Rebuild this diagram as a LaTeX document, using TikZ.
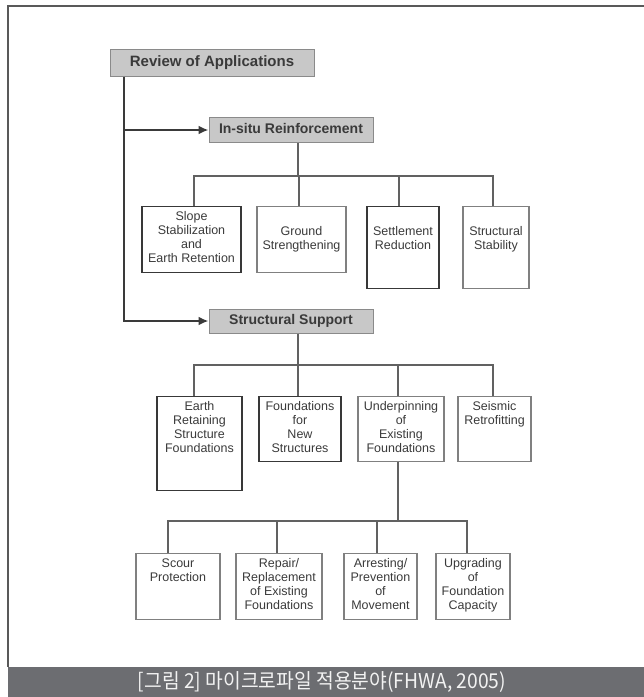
\documentclass[tikz,border=0pt]{standalone}
\usepackage{fontspec}
\setmainfont{Liberation Sans}
\newfontfamily\kofont{Noto Sans CJK KR}
\usetikzlibrary{arrows.meta}

\definecolor{headfill}{HTML}{C8C8C8}
\definecolor{headline}{HTML}{8A8A8A}
\definecolor{band}{HTML}{6C6D71}
\definecolor{inkgray}{HTML}{3A3A3A}

% text of a box: width, height, gap above first line, lines
\newcommand{\boxtext}[4]{\parbox[t][#2][t]{#1}{\centering\vspace*{#3}#4}}

\tikzset{
  head/.style={draw=headline, fill=headfill, line width=1pt, inner sep=0pt,
    font=\bfseries\fontsize{14}{16}\selectfont, text=inkgray,
    text height=10pt, text depth=3pt},
  cbox/.style={draw=black!50, line width=1.2pt, inner sep=0pt, anchor=north,
    font=\fontsize{12.5}{14}\selectfont, text=inkgray},
  darkbox/.style={cbox, draw=black!78},
  link/.style={draw=black!62, line width=1.2pt},
  trunk/.style={draw=inkgray, line width=2pt, -{Latex[length=10pt,width=9pt]}},
}

\begin{document}
\begin{tikzpicture}[x=1pt, y=-1pt]
\useasboundingbox (0,0) rectangle (644,697);
% frame and caption
\draw[black!65, line width=1.2pt] (644,6) -- (8,6) -- (8,667);
\fill[band] (8,667) rectangle (644,697);
\node[text=white!95!black, font=\kofont\fontsize{20.5}{22}\selectfont] (caption) at (322,682) {\scalebox{0.94}[1]{[그림 2] 마이크로파일 적용분야(FHWA, 2005)}};
%
\node[head, minimum width=204pt, minimum height=27pt, font=\bfseries\fontsize{15}{17}\selectfont] (review) at (212,62.5) {Review of Applications};
\node[head, minimum width=164pt, minimum height=25pt] (insitu) at (291,130) {In-situ Reinforcement};
\node[head, minimum width=164pt, minimum height=24pt] (support) at (291,321) {Structural Support};
%
\draw[trunk] (review.south -| 124,0) |- (support.west);
\draw[trunk] (insitu.west -| 124,0) -- (insitu.west);
%
\node[darkbox] (slope) at (191.5,206) {\boxtext{99pt}{66pt}{5pt}{Slope\\Stabilization\\and\\Earth Retention}};
\node[cbox] (ground) at (301.5,206) {\boxtext{89pt}{66pt}{19.5pt}{Ground\\Strengthening}};
\node[darkbox] (settle) at (403,206) {\boxtext{72pt}{82pt}{19.5pt}{Settlement\\Reduction}};
\node[cbox] (stab) at (496,206) {\boxtext{66pt}{82pt}{19.5pt}{Structural\\Stability}};
%
\node[darkbox] (earth) at (199.5,396) {\boxtext{85pt}{94pt}{5pt}{Earth\\Retaining\\Structure\\Foundations}};
\node[darkbox] (newfound) at (300,396) {\boxtext{82pt}{65pt}{5pt}{Foundations\\for\\New\\Structures}};
\node[cbox] (under) at (401,396) {\boxtext{86pt}{65pt}{5pt}{Underpinning\\of\\Existing\\Foundations}};
\node[cbox] (seismic) at (494.5,396) {\boxtext{73pt}{65pt}{5pt}{Seismic\\Retrofitting}};
%
\node[cbox] (scour) at (178,553) {\boxtext{84pt}{66pt}{5pt}{Scour\\Protection}};
\node[cbox] (repair) at (279,553) {\boxtext{86pt}{66pt}{5pt}{Repair/\\Replacement\\of Existing\\Foundations}};
\node[cbox] (arrest) at (380.5,553) {\boxtext{73pt}{66pt}{5pt}{Arresting/\\Prevention\\of\\Movement}};
\node[cbox] (upgrade) at (473,553) {\boxtext{74pt}{66pt}{5pt}{Upgrading\\of\\Foundation\\Capacity}};
%
\coordinate (bar1) at (298,176);
\draw[link] (insitu.south -| bar1) -- (bar1);
\foreach \c/\x in {slope/194, ground/299, settle/399, stab/493}
  \draw[link] (bar1) -| (\c.north -| \x,0);
\coordinate (bar2) at (298,365);
\draw[link] (support.south -| bar2) -- (bar2);
\foreach \c/\x in {earth/194, newfound/298, under/398, seismic/493}
  \draw[link] (bar2) -| (\c.north -| \x,0);
\coordinate (bar3) at (398,521);
\draw[link] (under.south -| bar3) -- (bar3);
\foreach \c/\x in {scour/168, repair/277, arrest/377, upgrade/467}
  \draw[link] (bar3) -| (\c.north -| \x,0);
\end{tikzpicture}
\end{document}
